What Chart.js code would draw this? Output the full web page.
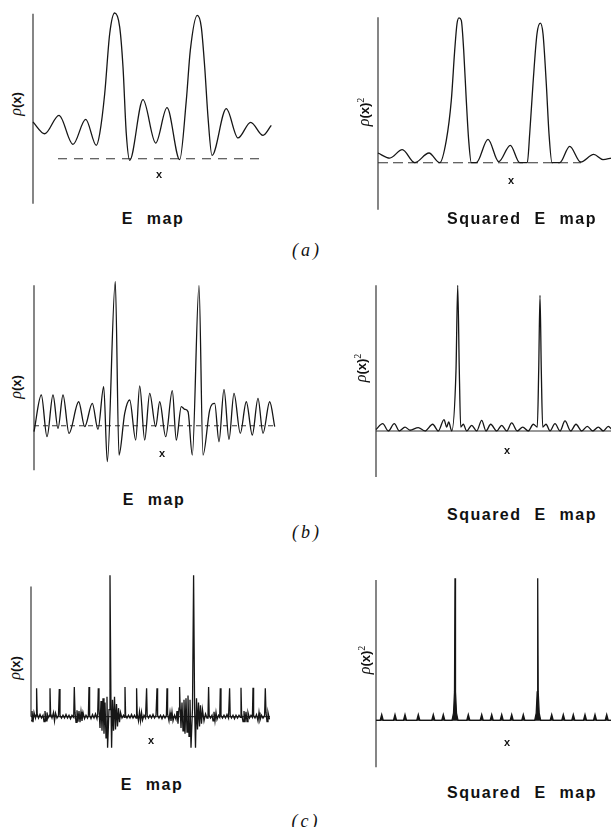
<!DOCTYPE html>
<html>
<head>
<meta charset="utf-8">
<script src="https://cdn.jsdelivr.net/npm/chart.js@4.4.0/dist/chart.umd.min.js"></script>
<style>
  body { margin:0; background:#fff; width:611px; height:827px; overflow:hidden; position:relative;
         font-family:"Liberation Sans", Arial, sans-serif; color:#111; }
  canvas { position:absolute; }
  .lbl { position:absolute; transform:translate(-50%,-50%); white-space:nowrap; }
  .title { font-weight:bold; font-size:16px; letter-spacing:1.5px; word-spacing:7px; }
  .ylab { font-size:14px; transform:translate(-50%,-50%) rotate(-90deg); }
  .ylab i { font-family:"Liberation Serif", serif; font-size:16px; }
  .ylab b { font-size:13px; }
  .ylab sup { font-size:10px; font-family:"Liberation Serif", serif; }
  .xlab { font-weight:bold; font-size:11px; }
  .part { font-family:"Liberation Serif", serif; font-style:italic; font-size:18px; letter-spacing:3px; }
</style>
</head>
<body>
<script>
// (a) E map: x position, density
var aEX = [0, 1.17, 2.6, 4.0, 5.27, 6.33, 6.67, 7.17, 7.67, 8.17, 8.67, 9.0, 9.33, 9.67, 11.0, 12.27, 13.4, 14.67, 15.33, 15.73, 16.43, 16.83, 17.17, 17.5, 17.9, 19.33, 20.5, 21.77, 23.0, 23.83];
var aEY = [2.53, 1.72, 2.99, 0.99, 2.71, 0.92, 1.72, 4.48, 8.62, 10.05, 9.08, 6.32, 1.72, -0.11, 4.07, 1.08, 3.52, -0.07, 4.02, 7.47, 9.89, 9.08, 6.32, 2.87, 0.23, 3.45, 1.43, 2.51, 1.61, 2.3];

// (a) squared E map
var aSX = [0, 1.17, 2.43, 3.67, 5.1, 6.17, 6.83, 7.33, 7.67, 7.9, 8.1, 8.33, 8.57, 8.83, 9.07, 9.33, 9.83, 11.0, 12.07, 13.23, 14.17, 14.93, 15.17, 15.5, 15.9, 16.23, 16.5, 16.83, 17.1, 17.4, 18.17, 19.17, 20.27, 21.57, 22.5, 23.33];
var aSY = [0.67, 0.32, 0.9, 0, 0.67, 0, 1.54, 4.3, 7.75, 9.59, 10.0, 9.82, 7.75, 4.3, 1.54, 0, 0, 1.61, 0.07, 1.2, 0, 0, 2.0, 5.45, 8.9, 9.63, 8.9, 5.45, 2.0, 0, 0, 1.13, 0.05, 0.57, 0.21, 0.32];

// (b) E map
var bEX = [0, 0.73, 1.3, 1.9, 2.4, 2.9, 3.5, 4.47, 5.07, 5.83, 6.4, 6.97, 7.33, 8.13, 8.5, 9.07, 9.57, 10.17, 10.57, 11.07, 11.57, 12.17, 12.57, 13.17, 13.83, 14.23, 14.73, 15.07, 15.4, 15.83, 16.5, 16.9, 17.57, 18.07, 18.5, 19.0, 19.5, 20.0, 20.63, 21.23, 21.83, 22.4, 22.9, 23.57, 24.07];
var bEY = [-0.42, 2.14, -0.77, 2.14, -0.19, 2.14, -0.53, 1.67, -0.07, 1.56, -0.26, 2.72, -2.51, 10.05, -2.05, 0.86, 1.79, -1.0, 2.77, -1.0, 2.26, -0.07, 1.67, -0.77, 2.44, -1.0, 1.33, 1.14, 0.98, -2.05, 9.77, -2.05, 1.09, 1.56, -1.12, 2.53, -0.95, 2.26, -0.53, 1.67, -0.65, 1.91, -0.53, 1.67, -0.07];

// (b) squared E map
var bSX = [0, 0.67, 1.23, 1.83, 2.33, 2.9, 3.4, 4.23, 4.9, 5.67, 6.23, 6.8, 7.07, 7.27, 7.57, 8.0, 8.17, 8.33, 8.47, 8.73, 9.07, 9.57, 10.07, 10.57, 11.0, 11.47, 12.07, 12.57, 13.07, 13.57, 14.13, 14.67, 15.23, 15.73, 16.13, 16.27, 16.4, 16.53, 16.67, 17.0, 17.4, 17.9, 18.4, 18.9, 19.47, 20.0, 20.57, 21.13, 21.67, 22.23, 22.73, 23.23, 23.57];
var bSY = [0.1, 0.5, 0, 0.5, 0, 0.27, 0.05, 0.23, 0, 0.46, 0, 0.78, 0.27, 0.62, 0, 4.16, 10.0, 4.16, 0.27, 0.46, 0, 0.39, 0, 0.73, 0, 0.46, 0, 0.39, 0, 0.55, 0, 0.27, 0, 0.46, 0.27, 4.16, 9.31, 4.16, 0.27, 0.46, 0, 0.5, 0, 0.69, 0, 0.46, 0, 0.32, 0, 0.27, 0, 0.32, 0.1];

// (c) E map - noisy, so kept as [x, density] pairs
var cEPts = [
  [0,-0.3],[0.1,0.4],[0.2,-0.4],[0.3,0.3],[0.45,-0.1],[0.5,0.1],[0.56,2.0],[0.62,0.2],[0.75,-0.1],[0.9,0.15],
  [1.05,-0.1],[1.2,0.1],[1.3,-0.35],[1.4,0.4],[1.5,-0.3],[1.6,0.3],[1.7,-0.1],[1.84,0.1],[1.9,2.0],[1.96,0.2],
  [2.1,-0.1],[2.25,0.3],[2.35,-0.3],[2.45,0.25],[2.6,-0.1],[2.75,0.1],[2.83,1.95],[2.9,0.1],[3.05,-0.1],[3.2,0.1],
  [3.35,-0.1],[3.5,0.15],[3.65,-0.1],[3.8,0.1],[3.95,-0.15],[4.1,0.1],[4.27,-0.05],[4.33,2.1],[4.4,0.3],[4.5,-0.4],
  [4.6,0.45],[4.7,-0.35],[4.8,0.4],[4.9,-0.4],[5.0,0.35],[5.1,-0.3],[5.2,0.3],[5.35,-0.15],[5.5,0.1],[5.65,-0.1],
  [5.74,0.1],[5.8,2.1],[5.86,0.1],[6.0,-0.15],[6.15,0.15],[6.3,-0.1],[6.45,0.2],[6.6,-0.15],[6.67,0.2],[6.73,2.0],
  [6.8,0.6],[6.9,-0.8],[7.0,1.1],[7.1,-1.0],[7.2,1.3],[7.3,-1.2],[7.4,1.0],[7.5,-1.5],[7.6,1.4],[7.66,-2.2],
  [7.8,0.5],[7.9,10.0],[8.0,0.5],[8.06,-2.2],[8.15,1.2],[8.25,-1.0],[8.35,1.4],[8.45,-0.9],[8.55,0.9],[8.65,-0.7],
  [8.75,0.6],[8.85,-0.4],[8.95,0.3],[9.1,-0.1],[9.25,0.1],[9.34,-0.05],[9.4,2.1],[9.46,0.1],[9.6,-0.1],[9.75,0.1],
  [9.9,-0.1],[10.05,0.15],[10.2,-0.1],[10.35,0.1],[10.5,-0.1],[10.56,2.0],[10.62,0.2],[10.75,-0.3],[10.85,0.35],[10.95,-0.3],
  [11.05,0.3],[11.15,-0.25],[11.3,0.1],[11.45,-0.1],[11.56,2.0],[11.62,0.1],[11.75,-0.1],[11.9,0.1],[12.05,-0.1],[12.2,0.15],
  [12.35,-0.1],[12.5,0.1],[12.6,2.0],[12.66,0.1],[12.8,-0.1],[12.95,0.1],[13.1,-0.15],[13.25,0.1],[13.4,-0.1],[13.54,0.1],
  [13.6,2.0],[13.66,0.2],[13.8,-0.3],[13.9,0.3],[14.0,-0.3],[14.1,0.35],[14.2,-0.3],[14.35,0.1],[14.5,-0.2],[14.6,0.4],
  [14.7,-0.5],[14.8,0.6],[14.86,2.1],[14.92,0.5],[15.0,-0.8],[15.1,1.0],[15.2,-1.0],[15.3,1.2],[15.4,-1.2],[15.5,1.3],
  [15.6,-1.1],[15.7,1.5],[15.8,-1.4],[15.9,1.2],[16.0,-2.2],[16.15,0.6],[16.26,10.0],[16.36,0.5],[16.45,-2.2],[16.55,1.3],
  [16.65,-0.9],[16.75,1.0],[16.85,-0.7],[16.95,0.8],[17.05,-0.5],[17.15,0.5],[17.3,-0.3],[17.45,0.2],[17.6,-0.1],[17.7,0.1],
  [17.76,2.1],[17.82,0.1],[17.95,-0.1],[18.1,0.1],[18.2,-0.3],[18.3,0.35],[18.4,-0.3],[18.5,0.3],[18.6,-0.2],[18.75,0.1],
  [18.87,-0.05],[18.93,2.0],[19.0,0.1],[19.15,-0.1],[19.3,0.1],[19.45,-0.1],[19.6,0.15],[19.75,-0.1],[19.86,2.0],[19.92,0.1],
  [20.05,-0.1],[20.2,0.1],[20.35,-0.15],[20.5,0.1],[20.65,-0.1],[20.8,0.1],[20.94,-0.05],[21.0,2.05],[21.06,0.2],[21.2,-0.35],
  [21.3,0.4],[21.4,-0.4],[21.5,0.35],[21.6,-0.35],[21.7,0.3],[21.85,-0.1],[22.0,0.1],[22.14,-0.05],[22.2,2.05],[22.26,0.1],
  [22.4,-0.1],[22.55,0.15],[22.7,-0.3],[22.8,0.3],[22.9,-0.25],[23.05,0.1],[23.2,-0.1],[23.36,0.1],[23.43,2.0],[23.5,0.3],
  [23.6,-0.35],[23.7,0.3],[23.85,-0.2]
];

// (c) squared E map
var cSPts = [
  [0,0],[0.42,0],[0.57,0.4],[0.72,0],[1.75,0],[1.9,0.4],[2.05,0],[2.75,0],[2.9,0.4],[3.05,0],
  [4.08,0],[4.23,0.4],[4.38,0],[5.58,0],[5.73,0.4],[5.88,0],[6.58,0],[6.73,0.4],[6.88,0],
  [7.6,0],[7.75,0.5],[7.85,2.0],[7.9,10.0],[7.95,2.0],[8.05,0.5],[8.2,0],
  [9.08,0],[9.23,0.4],[9.38,0],[10.42,0],[10.57,0.4],[10.72,0],[11.42,0],[11.57,0.4],[11.72,0],
  [12.42,0],[12.57,0.4],[12.72,0],[13.42,0],[13.57,0.4],[13.72,0],[14.58,0],[14.73,0.4],[14.88,0],
  [15.87,0],[16.02,0.5],[16.12,2.0],[16.17,10.0],[16.22,2.0],[16.32,0.5],[16.47,0],
  [17.42,0],[17.57,0.4],[17.72,0],[18.58,0],[18.73,0.4],[18.88,0],[19.58,0],[19.73,0.4],[19.88,0],
  [20.75,0],[20.9,0.4],[21.05,0],[21.75,0],[21.9,0.4],[22.05,0],[22.92,0],[23.07,0.4],[23.22,0],[23.57,0]
];

function zipXY(xs, ys) {
  return xs.map(function (x, i) { return {x: x, y: ys[i]}; });
}
function fromPairs(p) {
  return p.map(function (d) { return {x: d[0], y: d[1]}; });
}

// where each panel sits on the page (x0,y0 = pixel of the origin)
var panels = [
  {pts: zipXY(aEX, aEY), x0: 33.3, y0: 158.3, sy: 14.5, xr: [-0.5, 24.3], yr: [-3.4, 10.6], axis: [-3.1, 10.0], base: [2.5, 23.3], dash: [9, 7], smooth: true},
  {pts: zipXY(aSX, aSY), x0: 378.3, y0: 162.3, sy: 14.5, xr: [-0.5, 23.5], yr: [-3.4, 10.4], axis: [-3.24, 10.04], base: [0, 20.3], dash: [10, 5], smooth: true},
  {pts: zipXY(bEX, bEY), x0: 34.3, y0: 425.7, sy: 14.33, xr: [-0.5, 24.3], yr: [-3.3, 10.3], axis: [-3.1, 9.8], base: [0, 24.0], dash: [5, 4], smooth: true},
  {pts: zipXY(bSX, bSY), x0: 376, y0: 430.7, sy: 14.57, xr: [-0.5, 23.7], yr: [-3.3, 10.3], axis: [-3.16, 10.0], base: [0, 23.6], dash: [], smooth: true},
  {pts: fromPairs(cEPts), x0: 30.7, y0: 716.7, sy: 14.17, xr: [-0.5, 24.1], yr: [-2.5, 10.3], axis: [0, 9.2], base: [0, 23.9], dash: [], smooth: false},
  {pts: fromPairs(cSPts), x0: 376, y0: 720, sy: 14.17, xr: [-0.5, 23.7], yr: [-3.5, 10.3], axis: [-3.3, 9.88], base: [0, 23.6], dash: [], smooth: false, fill: true}
];
var SX = 10; // px per x unit, same for every panel

panels.forEach(function (p) {
  var cv = document.createElement('canvas');
  var w = Math.round((p.xr[1] - p.xr[0]) * SX);
  var h = Math.round((p.yr[1] - p.yr[0]) * p.sy);
  cv.width = w; cv.height = h;
  cv.style.left = (p.x0 + p.xr[0] * SX) + 'px';
  cv.style.top = (p.y0 - p.yr[1] * p.sy) + 'px';
  document.body.appendChild(cv);

  new Chart(cv.getContext('2d'), {
    type: 'line',
    data: {
      datasets: [
        {
          data: p.pts,
          borderColor: '#161616',
          borderWidth: 1.3,
          pointRadius: 0,
          tension: p.smooth ? 0.4 : 0,
          cubicInterpolationMode: p.smooth ? 'monotone' : 'default',
          fill: p.fill ? 'origin' : false,
          backgroundColor: '#161616'
        },
        {
          // baseline
          data: [{x: p.base[0], y: 0}, {x: p.base[1], y: 0}],
          borderColor: '#333',
          borderWidth: 1.1,
          borderDash: p.dash,
          pointRadius: 0
        },
        {
          // vertical axis
          data: [{x: 0, y: p.axis[0]}, {x: 0, y: p.axis[1]}],
          borderColor: '#222',
          borderWidth: 1.1,
          pointRadius: 0
        }
      ]
    },
    options: {
      responsive: false,
      animation: false,
      layout: {padding: 0},
      plugins: {legend: {display: false}, tooltip: {enabled: false}},
      scales: {
        x: {type: 'linear', display: false, min: p.xr[0], max: p.xr[1]},
        y: {display: false, min: p.yr[0], max: p.yr[1]}
      }
    }
  });
});

// text labels
var texts = [
  ['ylab', 16, 104, '<i>ρ</i><b>(x)</b>'],
  ['ylab', 364, 112, '<i>ρ</i><b>(x)</b><sup>2</sup>'],
  ['ylab', 16, 387, '<i>ρ</i><b>(x)</b>'],
  ['ylab', 361, 368, '<i>ρ</i><b>(x)</b><sup>2</sup>'],
  ['ylab', 15, 668, '<i>ρ</i><b>(x)</b>'],
  ['ylab', 365, 660, '<i>ρ</i><b>(x)</b><sup>2</sup>'],
  ['xlab', 159, 174, 'x'],
  ['xlab', 511, 180, 'x'],
  ['xlab', 162, 453, 'x'],
  ['xlab', 507, 450, 'x'],
  ['xlab', 151, 740, 'x'],
  ['xlab', 507, 742, 'x'],
  ['title', 153, 219, 'E map'],
  ['title', 522, 219, 'Squared E map'],
  ['title', 154, 500, 'E map'],
  ['title', 522, 515, 'Squared E map'],
  ['title', 152, 785, 'E map'],
  ['title', 522, 793, 'Squared E map'],
  ['part', 307, 250, '(a)'],
  ['part', 307, 532, '(b)'],
  ['part', 306, 821, '(c)']
];
texts.forEach(function (t) {
  var d = document.createElement('div');
  d.className = 'lbl ' + t[0];
  d.style.left = t[1] + 'px';
  d.style.top = t[2] + 'px';
  d.innerHTML = t[3];
  document.body.appendChild(d);
});
</script>
</body>
</html>
